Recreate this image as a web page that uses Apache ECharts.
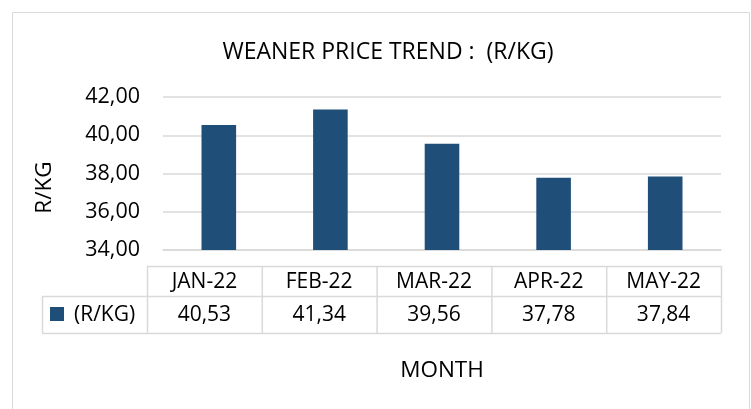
<!DOCTYPE html>
<html><head><meta charset="utf-8">
<script src="https://cdn.jsdelivr.net/npm/echarts@6/dist/echarts.min.js"></script>
<style>html,body{margin:0;padding:0;background:#fff}#c{width:751px;height:409px}</style>
</head><body><div id="c"></div>
<script>
const categories = ['JAN-22', 'FEB-22', 'MAR-22', 'APR-22', 'MAY-22'];
const values = [40.53, 41.34, 39.56, 37.78, 37.84];
const yTicks = [34, 36, 38, 40, 42];
const seriesName = '(R/KG)';
const titleText = 'WEANER PRICE TREND :  (R/KG)';
const yAxisName = 'R/KG';
const xAxisName = 'MONTH';

const fmt = v => Number(v).toFixed(2).replace('.', ',');
const FONT = 'Open Sans';
const TXT = '#000000';
const LINE = '#d9d9d9';
const BAR = '#1F4E79';

const chart = echarts.init(document.getElementById('c'), null, { renderer: 'canvas' });

// data table layout
const tLeft = 147, tRight = 721, legLeft = 42, r0 = 266, r1 = 296, r2 = 333;
const colW = (tRight - tLeft) / categories.length;
const g = [];
g.push({ type: 'rect', silent: true, shape: { x: 12.5, y: 12.5, width: 737, height: 420 }, style: { fill: null, stroke: LINE, lineWidth: 1 } });
function hline(x1, x2, y) { g.push({ type: 'line', silent: true, shape: { x1, y1: y + 0.5, x2, y2: y + 0.5 }, style: { stroke: LINE, lineWidth: 1.5 } }); }
function vline(x, y1, y2) { g.push({ type: 'line', silent: true, shape: { x1: x + 0.5, y1, x2: x + 0.5, y2 }, style: { stroke: LINE, lineWidth: 1.5 } }); }
hline(tLeft, tRight, r0);
hline(legLeft, tRight, r1);
hline(legLeft, tRight, r2);
vline(legLeft, r1, r2);
for (let i = 0; i <= categories.length; i++) vline(tLeft + i * colW, r0, r2);
const tFont = '21px "' + FONT + '"';
categories.forEach((c, i) => {
  g.push({ type: 'text', silent: true, x: tLeft + (i + 0.5) * colW, y: (r0 + r1) / 2 + 1,
    style: { text: c, fill: TXT, font: tFont, textAlign: 'center', textVerticalAlign: 'middle' } });
  g.push({ type: 'text', silent: true, x: tLeft + (i + 0.5) * colW, y: (r1 + r2) / 2 + 1,
    style: { text: fmt(values[i]), fill: TXT, font: tFont, textAlign: 'center', textVerticalAlign: 'middle' } });
});
g.push({ type: 'rect', silent: true, shape: { x: 50, y: 307, width: 14, height: 14 }, style: { fill: BAR } });
g.push({ type: 'text', silent: true, x: 74, y: (r1 + r2) / 2 + 1,
  style: { text: seriesName, fill: TXT, font: tFont, textAlign: 'left', textVerticalAlign: 'middle' } });
g.push({ type: 'text', silent: true, x: 44.5, y: 187.5, rotation: Math.PI / 2,
  style: { text: yAxisName, fill: TXT, font: '22.5px "' + FONT + '"', textAlign: 'center', textVerticalAlign: 'middle' } });
g.push({ type: 'text', silent: true, x: 442, y: 371,
  style: { text: xAxisName, fill: TXT, font: '22.5px "' + FONT + '"', textAlign: 'center', textVerticalAlign: 'middle' } });

chart.setOption({
  animation: false,
  backgroundColor: '#ffffff',
  title: {
    text: titleText, left: 383, top: 36, textAlign: 'center',
    textStyle: { fontFamily: FONT, fontSize: 23, fontWeight: 'normal', color: TXT }
  },
  grid: { left: 163, right: 30, top: 97, bottom: 159, containLabel: false },
  xAxis: {
    type: 'category', data: categories,
    axisLine: { show: true, lineStyle: { color: LINE, width: 1.5 } },
    axisTick: { show: false }, axisLabel: { show: false }
  },
  yAxis: {
    type: 'value', min: yTicks[0], max: yTicks[yTicks.length - 1], interval: yTicks[1] - yTicks[0],
    axisLine: { show: false }, axisTick: { show: false },
    splitLine: { lineStyle: { color: LINE, width: 1.5 } },
    axisLabel: { formatter: fmt, color: TXT, fontFamily: FONT, fontSize: 21.5, margin: 23 }
  },
  series: [{
    name: seriesName, type: 'bar', data: values, barWidth: '31%',
    itemStyle: { color: BAR }
  }],
  graphic: g
});
</script></body></html>
